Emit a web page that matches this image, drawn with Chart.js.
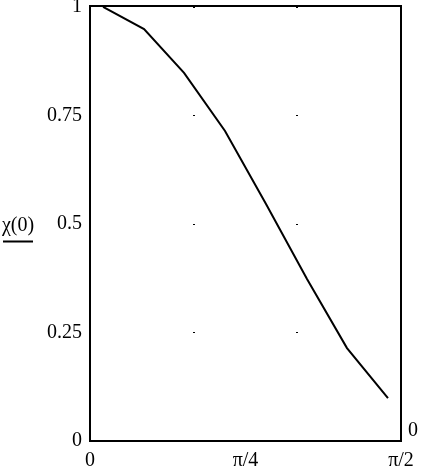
<!DOCTYPE html>
<html>
<head>
<meta charset="utf-8">
<script src="https://cdn.jsdelivr.net/npm/chart.js@4/dist/chart.umd.min.js"></script>
<style>
  html, body { margin: 0; padding: 0; background: #fff; }
  canvas { display: block; }
</style>
</head>
<body>
<canvas id="chart" width="422" height="467"></canvas>
<script>
// data (theta in radians, chi(0))
const thetaValues = [0.066, 0.273, 0.475, 0.682, 0.889, 1.096, 1.298, 1.505];
const chiValues = [1.0, 0.949, 0.848, 0.714, 0.546, 0.373, 0.214, 0.099];

const xTickValues = [0, Math.PI / 4, Math.PI / 2];
const xTickLabels = ['0', 'π/4', 'π/2'];
const yTickValues = [0, 0.25, 0.5, 0.75, 1];
const yTickLabels = ['0', '0.25', '0.5', '0.75', '1'];

// dotted grid marks (Mathcad style)
const xGridValues = [Math.PI / 6, Math.PI / 3];
const yGridValues = [0.25, 0.5, 0.75];

const FONT = '"Liberation Serif", "DejaVu Serif", serif';

const framePlugin = {
    id: 'frame',
    afterDraw(chart) {
        const ctx = chart.ctx;
        const area = chart.chartArea;
        const xs = chart.scales.x;
        const ys = chart.scales.y;
        ctx.save();

        // box round the plot
        ctx.strokeStyle = '#000';
        ctx.lineWidth = 2;
        ctx.strokeRect(area.left, area.top, area.right - area.left, area.bottom - area.top);

        // grid dots
        ctx.fillStyle = '#000';
        xGridValues.forEach(xv => {
            const px = Math.round(xs.getPixelForValue(xv));
            yGridValues.forEach(yv => {
                const py = Math.round(ys.getPixelForValue(yv));
                ctx.fillRect(px - 1, py, 2, 1);
            });
            ctx.fillRect(px - 1, area.top + 1, 2, 1);
        });

        // y axis name, underlined
        ctx.font = '20px ' + FONT;
        ctx.textAlign = 'center';
        ctx.textBaseline = 'middle';
        const midY = (area.top + area.bottom) / 2;
        ctx.fillText('χ(0)', 18, midY + 2);
        ctx.fillRect(3, midY + 17, 30, 2);

        // lower right limit label
        ctx.textAlign = 'left';
        ctx.fillText('0', area.right + 7, area.bottom - 10);

        ctx.restore();
    }
};

const ctx = document.getElementById('chart').getContext('2d');
new Chart(ctx, {
    type: 'scatter',
    data: {
        datasets: [{
            data: thetaValues.map((t, i) => ({ x: t, y: chiValues[i] })),
            showLine: true,
            borderColor: '#000',
            borderWidth: 2,
            pointRadius: 0,
            tension: 0,
        }],
    },
    options: {
        responsive: false,
        devicePixelRatio: 1,
        animation: false,
        layout: {
            padding: { top: 6, right: 21, left: 0, bottom: 0 },
        },
        plugins: {
            legend: { display: false },
            tooltip: { enabled: false },
        },
        scales: {
            x: {
                type: 'linear',
                min: 0,
                max: Math.PI / 2,
                afterBuildTicks: (scale) => {
                    scale.ticks = xTickValues.map(v => ({ value: v }));
                },
                afterFit: (scale) => {
                    scale.height = 26;
                    scale.paddingLeft = 0;
                    scale.paddingRight = 0;
                },
                grid: { display: false, drawTicks: false },
                border: { display: false },
                ticks: {
                    color: '#000',
                    font: { family: FONT, size: 20 },
                    padding: 8,
                    maxRotation: 0,
                    autoSkip: false,
                    callback: (value, index) => xTickLabels[index],
                },
            },
            y: {
                type: 'linear',
                min: 0,
                max: 1.002,
                afterBuildTicks: (scale) => {
                    scale.ticks = yTickValues.map(v => ({ value: v }));
                },
                afterFit: (scale) => {
                    scale.width = 90;
                    scale.paddingTop = 0;
                    scale.paddingBottom = 0;
                },
                grid: { display: false, drawTicks: false },
                border: { display: false },
                ticks: {
                    color: '#000',
                    font: { family: FONT, size: 20 },
                    padding: 8,
                    autoSkip: false,
                    callback: (value, index) => yTickLabels[index],
                },
            },
        },
    },
    plugins: [framePlugin],
});
</script>
</body>
</html>
